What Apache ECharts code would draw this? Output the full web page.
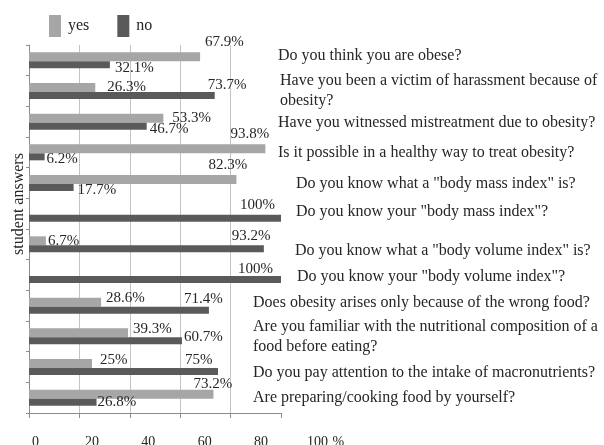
<!DOCTYPE html>
<html>
<head>
<meta charset="utf-8">
<script src="https://cdn.jsdelivr.net/npm/echarts@6/dist/echarts.min.js"></script>
<style>
  html, body { margin: 0; padding: 0; background: #fff; }
  #chart { width: 604px; height: 445px; }
</style>
</head>
<body>
<div id="chart"></div>
<script>
// Survey questions, top to bottom
const questions = [
  'Do you think you are obese?',
  'Have you been a victim of harassment because of\nobesity?',
  'Have you witnessed mistreatment due to obesity?',
  'Is it possible in a healthy way to treat obesity?',
  'Do you know what a "body mass index" is?',
  'Do you know your "body mass index"?',
  'Do you know what a "body volume index" is?',
  'Do you know your "body volume index"?',
  'Does obesity arises only because of the wrong food?',
  'Are you familiar with the nutritional composition of a\nfood before eating?',
  'Do you pay attention to the intake of macronutrients?',
  'Are preparing/cooking food by yourself?'
];

// Share of answers, percent
const yesValues = [67.9, 26.3, 53.3, 93.8, 82.3, 0, 6.7, 0, 28.6, 39.3, 25, 73.2];
const noValues  = [32.1, 73.7, 46.7, 6.2, 17.7, 100, 93.2, 100, 71.4, 60.7, 75, 26.8];

// X axis tick labels
const xTicks = [0, 20, 40, 60, 80, 100];

const FONT = 'Liberation Serif';
const TEXT = '#262626';
const YES_COLOR = '#a6a6a6';
const NO_COLOR = '#5a5a5a';

// Where each value label sits: 'r' = right of the bar end [gap, dy],
// 'a' = above the bar end [dx from the end, rise above the bar top]
const yesLabelPlace = [
  ['a', 5, 10], ['r', 12, 0], ['r', 9, 0], ['a', -35, 10], ['a', -28, 10],
  null, ['r', 2, 0], null, ['r', 5, -4], ['r', 5, -4], ['r', 8, -3], ['a', -20, 6]
];
const noLabelPlace = [
  ['r', 5, 3], ['a', -7, 7], ['r', 3, 3], ['r', 2, 2], ['r', 4, 3],
  ['a', -41, 10], ['a', -32, 9], ['a', -43, 7], ['a', -25, 8], ['r', 2, -4],
  ['a', -33, 8], ['r', 1, 0]
];

// Question label indent (px) and vertical nudge (px, negative = up)
const rowLayout = [
  [25, -5], [27, 0], [25, 1], [25, 0], [43, 1], [43, -2],
  [42, 6], [44, 2], [0, -3], [0, 0], [0, 6], [0, 0]
];

function labelFor(place) {
  if (!place) return { show: false };
  if (place[0] === 'r') {
    return { position: 'right', distance: 0, offset: [place[1], place[2]] };
  }
  return {
    position: ['100%', 0], align: 'left', verticalAlign: 'middle',
    offset: [place[1], -place[2]]
  };
}

function barData(values, places) {
  return values.map((v, i) => ({ value: v, label: labelFor(places[i]) }));
}

// one rich style per question row
const rich = {};
rowLayout.forEach(([indent, dy], i) => {
  rich['q' + i] = {
    fontFamily: FONT, fontSize: 16, color: TEXT, lineHeight: 20,
    padding: [dy > 0 ? dy * 2 : 0, 0, dy < 0 ? -dy * 2 : 0, indent]
  };
});

const valueLabel = {
  show: true,
  fontFamily: FONT,
  fontSize: 15,
  color: TEXT,
  formatter: p => (p.value ? p.value + '%' : '')
};

const chart = echarts.init(document.getElementById('chart'), null, { renderer: 'canvas' });

chart.setOption({
  animation: false,
  backgroundColor: '#fff',
  textStyle: { fontFamily: FONT, color: TEXT },
  legend: {
    left: 49,
    top: 15,
    padding: 0,
    itemWidth: 12,
    itemHeight: 22,
    itemGap: 28,
    icon: 'rect',
    textStyle: { fontFamily: FONT, fontSize: 16, color: TEXT, padding: [3, 0, 0, 2] },
    data: ['yes', 'no']
  },
  grid: [
    { left: 29, top: 45, width: 252, height: 368, outerBoundsMode: 'none' },
    { left: 35.5, width: 282, bottom: 12, height: 6, outerBoundsMode: 'none' }
  ],
  xAxis: [
    {
      gridIndex: 0,
      type: 'value',
      min: 0,
      max: 100,
      interval: 20,
      axisLine: { show: true, lineStyle: { color: '#8c8c8c', width: 1 } },
      axisTick: { show: true, length: 5, lineStyle: { color: '#8c8c8c' } },
      axisLabel: { show: false },
      splitLine: { show: true, showMaxLine: false, lineStyle: { color: '#c4c4c4', width: 1 } }
    },
    {
      gridIndex: 1,
      type: 'value',
      min: 0,
      max: 100,
      interval: 20,
      axisLine: { show: false },
      axisTick: { show: false },
      splitLine: { show: false },
      axisLabel: {
        margin: 2,
        fontFamily: FONT,
        fontSize: 14,
        color: TEXT,
        customValues: xTicks
      },
      name: '%',
      nameLocation: 'end',
      nameGap: 15,
      nameTextStyle: { fontFamily: FONT, fontSize: 14, color: TEXT, verticalAlign: 'top', padding: [2, 0, 0, 0] }
    }
  ],
  yAxis: [
    {
      gridIndex: 0,
      type: 'category',
      inverse: true,
      data: questions,
      axisLine: { show: true, lineStyle: { color: '#8c8c8c' } },
      axisTick: { show: true, length: 3, lineStyle: { color: '#8c8c8c' } },
      axisLabel: { show: false },
      name: 'student answers',
      nameLocation: 'middle',
      nameRotate: 90,
      nameGap: 2,
      nameTextStyle: { fontFamily: FONT, fontSize: 16, color: TEXT, padding: [0, 0, 0, 50] }
    },
    {
      gridIndex: 0,
      type: 'category',
      inverse: true,
      position: 'right',
      offset: -28,
      data: questions,
      axisLine: { show: false },
      axisTick: { show: false },
      axisLabel: {
        interval: 0,
        margin: 0,
        align: 'left',
        formatter: (val, idx) => val.split('\n').map(line => '{q' + idx + '|' + line + '}').join('\n'),
        rich: rich
      }
    },
    { gridIndex: 1, type: 'value', show: false }
  ],
  series: [
    {
      name: 'yes',
      type: 'bar',
      xAxisIndex: 0,
      yAxisIndex: 0,
      barWidth: 9,
      barGap: '0%',
      itemStyle: { color: YES_COLOR },
      label: valueLabel,
      data: barData(yesValues, yesLabelPlace)
    },
    {
      name: 'no',
      type: 'bar',
      xAxisIndex: 0,
      yAxisIndex: 0,
      barWidth: 7,
      barGap: '0%',
      itemStyle: { color: NO_COLOR },
      label: valueLabel,
      data: barData(noValues, noLabelPlace)
    }
  ]
});
</script>
</body>
</html>
